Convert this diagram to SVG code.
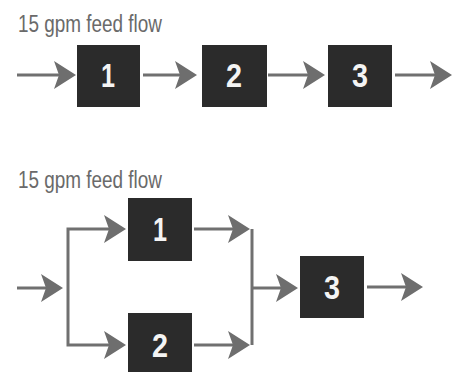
<svg xmlns="http://www.w3.org/2000/svg" width="459" height="372" viewBox="0 0 459 372">
<style>
.lbl{font-family:"Liberation Sans",Arial,sans-serif;font-size:23px;fill:#6a6a6a}
.box{fill:#2b2b2b}
.num{font-family:"Liberation Sans",Arial,sans-serif;font-size:34px;font-weight:bold;fill:#f4f4f4}
.ln{stroke:#707070;stroke-width:3;fill:none}
.hd{fill:#6e6e6e}
</style>
<defs>
<polygon id="ah" points="-22,-14 0,0 -22,14 -17,0"/>
</defs>
<rect width="459" height="372" fill="#ffffff"/>
<text class="lbl" x="18" y="32" textLength="144" lengthAdjust="spacingAndGlyphs">15 gpm feed flow</text>
<text class="lbl" x="18" y="188" textLength="144" lengthAdjust="spacingAndGlyphs">15 gpm feed flow</text>
<g id="connectors">
<line class="ln" x1="17" y1="75" x2="62" y2="75"/>
<use href="#ah" class="hd" x="76" y="75"/>
<line class="ln" x1="143" y1="75" x2="183" y2="75"/>
<use href="#ah" class="hd" x="197" y="75"/>
<line class="ln" x1="268" y1="75" x2="311" y2="75"/>
<use href="#ah" class="hd" x="325" y="75"/>
<line class="ln" x1="395" y1="75" x2="438" y2="75"/>
<use href="#ah" class="hd" x="452" y="75"/>
<line class="ln" x1="17" y1="288" x2="50" y2="288"/>
<use href="#ah" class="hd" x="63" y="288"/>
<polyline class="ln" points="112,229 68,229 68,345 112,345"/>
<use href="#ah" class="hd" x="126" y="229"/>
<use href="#ah" class="hd" x="126" y="345"/>
<line class="ln" x1="194" y1="229" x2="236" y2="229"/>
<use href="#ah" class="hd" x="250" y="229"/>
<line class="ln" x1="194" y1="345" x2="236" y2="345"/>
<use href="#ah" class="hd" x="250" y="345"/>
<line class="ln" x1="252" y1="229" x2="252" y2="345"/>
<line class="ln" x1="252" y1="288" x2="284" y2="288"/>
<use href="#ah" class="hd" x="298" y="288"/>
<line class="ln" x1="367" y1="287" x2="409" y2="287"/>
<use href="#ah" class="hd" x="423" y="287"/>
</g>
<g id="s1"><rect class="box" x="77" y="45" width="63" height="62"/><text class="num" x="101" y="87" textLength="14" lengthAdjust="spacingAndGlyphs">1</text></g>
<g id="s2"><rect class="box" x="202" y="45" width="65" height="62"/><text class="num" x="226" y="87" textLength="16" lengthAdjust="spacingAndGlyphs">2</text></g>
<g id="s3"><rect class="box" x="328" y="45" width="64" height="62"/><text class="num" x="352" y="87" textLength="16" lengthAdjust="spacingAndGlyphs">3</text></g>
<g id="p1"><rect class="box" x="128" y="198" width="64" height="63"/><text class="num" x="153" y="241" textLength="14" lengthAdjust="spacingAndGlyphs">1</text></g>
<g id="p2"><rect class="box" x="128" y="313" width="64" height="60"/><text class="num" x="152" y="357" textLength="16" lengthAdjust="spacingAndGlyphs">2</text></g>
<g id="p3"><rect class="box" x="300" y="256" width="64" height="62"/><text class="num" x="324" y="299" textLength="16" lengthAdjust="spacingAndGlyphs">3</text></g>
</svg>
